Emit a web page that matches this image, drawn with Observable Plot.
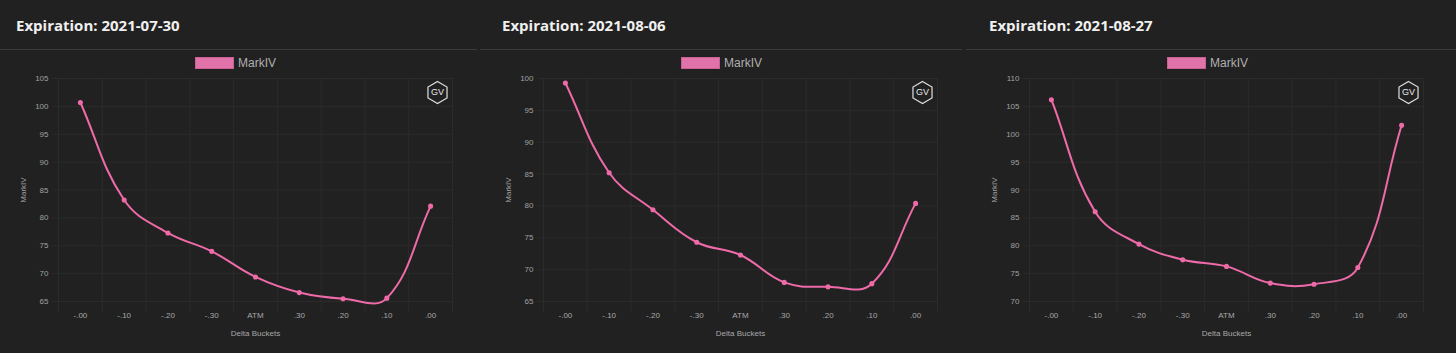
<!DOCTYPE html>
<html>
<head>
<meta charset="utf-8">
<script src="https://cdn.jsdelivr.net/npm/d3@7"></script>
<script src="https://cdn.jsdelivr.net/npm/@observablehq/plot@0.6"></script>
<style>
  html, body { margin: 0; padding: 0; background: #212121; overflow: hidden; }
  #root { position: relative; width: 1456px; height: 353px; background: #212121; }
  .title { position: absolute; top: 15px; font: 700 15px "Open Sans", sans-serif; color: #f0f0f0; line-height: 20px; white-space: nowrap; }
  .sep { position: absolute; top: 49px; height: 1px; background: #3b3b3b; }
  .legbox { position: absolute; top: 57px; width: 37px; height: 10px; background: #e173ab; border: 1px solid #c95f93; }
  .legtxt { position: absolute; top: 55px; font: 12px "Liberation Sans", Arial, sans-serif; color: #b0b0b0; line-height: 16px; }
  .chart { position: absolute; top: 70px; }
</style>
</head>
<body>
<div id="root"></div>
<script>
// ---- data ----
const categories = ["-.00", "-.10", "-.20", "-.30", "ATM", ".30", ".20", ".10", ".00"];
const expirations = ["2021-07-30", "2021-08-06", "2021-08-27"];
const markIV_0730 = [100.7, 83.2, 77.3, 74.0, 69.4, 66.6, 65.5, 65.6, 82.1];
const markIV_0806 = [99.3, 85.2, 79.4, 74.3, 72.3, 68.0, 67.3, 67.8, 80.4];
const markIV_0827 = [106.2, 86.1, 80.3, 77.5, 76.3, 73.3, 73.1, 76.1, 101.6];
const yDomains = [[65, 105], [65, 100], [70, 110]];
const seriesName = "MarkIV";
const xLabel = "Delta Buckets";
const logoText = "GV";

const seriesList = [markIV_0730, markIV_0806, markIV_0827];

// Chart.js-like spline curve (tension 0.4)
function ChartSpline(context) { this._context = context; }
ChartSpline.prototype = {
  areaStart() { this._line = 0; },
  areaEnd() { this._line = NaN; },
  lineStart() { this._pts = []; },
  point(x, y) { this._pts.push([+x, +y]); },
  lineEnd() {
    const p = this._pts, n = p.length, t = 0.4, ctx = this._context;
    if (!n) return;
    const cps = p.map((cur, i) => {
      const prev = p[i - 1] || cur, next = p[i + 1] || cur;
      const d01 = Math.hypot(cur[0] - prev[0], cur[1] - prev[1]);
      const d12 = Math.hypot(next[0] - cur[0], next[1] - cur[1]);
      let s01 = d01 / (d01 + d12), s12 = d12 / (d01 + d12);
      s01 = isNaN(s01) ? 0 : s01; s12 = isNaN(s12) ? 0 : s12;
      const fa = t * s01, fb = t * s12;
      return {
        prev: [cur[0] - fa * (next[0] - prev[0]), cur[1] - fa * (next[1] - prev[1])],
        next: [cur[0] + fb * (next[0] - prev[0]), cur[1] + fb * (next[1] - prev[1])]
      };
    });
    ctx.moveTo(p[0][0], p[0][1]);
    for (let i = 1; i < n; i++) {
      ctx.bezierCurveTo(cps[i - 1].next[0], cps[i - 1].next[1], cps[i].prev[0], cps[i].prev[1], p[i][0], p[i][1]);
    }
  }
};
const chartCurve = (context) => new ChartSpline(context);

const hexSymbol = {
  draw(context, size) {
    const r = Math.sqrt(size / Math.PI);
    for (let k = 0; k < 6; k++) {
      const a = -Math.PI / 2 + k * Math.PI / 3;
      const x = r * Math.cos(a), y = r * Math.sin(a);
      if (k === 0) context.moveTo(x, y); else context.lineTo(x, y);
    }
    context.closePath();
  }
};

const root = document.getElementById("root");
const W = 1456;
const lineColor = "#ee6aa8";
const gridColor = "#2b2b2b";

expirations.forEach((exp, i) => {
  const left = Math.round(i * W / 3);

  const title = document.createElement("div");
  title.className = "title";
  title.style.left = (left + 16 + i) + "px";
  title.textContent = "Expiration: " + exp;
  root.appendChild(title);

  const sep = document.createElement("div");
  sep.className = "sep";
  const sl = Math.max(0, left - 5), sr = Math.min(W, left + 477);
  sep.style.left = sl + "px";
  sep.style.width = (i === 2 ? W - sl : sr - sl) + "px";
  root.appendChild(sep);

  const lb = document.createElement("div");
  lb.className = "legbox";
  lb.style.left = (left + 195 + (i ? 1 : 0)) + "px";
  root.appendChild(lb);
  const lt = document.createElement("div");
  lt.className = "legtxt";
  lt.style.left = (left + 238 + (i ? 1 : 0)) + "px";
  lt.textContent = seriesName;
  root.appendChild(lt);

  const values = seriesList[i];
  const data = categories.map((c, j) => ({ idx: j, cat: c, iv: values[j] }));
  const [y0, y1] = yDomains[i];
  const yTicks = d3.range(y0, y1 + 0.001, 5);
  const boundaries = d3.range(categories.length + 1).map(j => j - 0.5);

  const chart = Plot.plot({
    width: 484,
    height: 275,
    marginTop: 8,
    marginBottom: 44,
    marginLeft: 58,
    marginRight: 32,
    style: { background: "transparent", color: "#9a9a9a", fontFamily: "'Liberation Sans', Arial, sans-serif", fontSize: "8px" },
    x: { domain: [-0.5, categories.length - 0.5], label: null },
    y: { domain: [y0, y1], label: null },
    marks: [
      Plot.ruleY(yTicks, { stroke: gridColor, strokeWidth: 1, insetLeft: -6 }),
      Plot.ruleX(boundaries, { stroke: gridColor, strokeWidth: 1, insetBottom: -11 }),
      Plot.axisX({ ticks: d3.range(categories.length), tickFormat: j => categories[j], tickSize: 0, tickPadding: 11, label: xLabel, labelAnchor: "center", labelArrow: "none", labelOffset: 34, fill: "#a8a8a8" }),
      Plot.axisY({ ticks: yTicks, tickSize: 0, tickPadding: 10, label: seriesName, labelAnchor: "center", labelArrow: "none", labelOffset: 38, fill: "#a0a0a0" }),
      Plot.line(data, { x: "idx", y: "iv", stroke: lineColor, strokeWidth: 2, curve: chartCurve }),
      Plot.dot(data, { x: "idx", y: "iv", r: 1.8, fill: lineColor, stroke: lineColor }),
      Plot.dot([logoText], { frameAnchor: "top-right", dx: -15, dy: 14, symbol: hexSymbol, r: 11, stroke: "#e0e0e0", strokeWidth: 1.2, fill: "none" }),
      Plot.text([logoText], { frameAnchor: "top-right", dx: -15, dy: 14, text: d => d, textAnchor: "middle", lineAnchor: "middle", fill: "#e8e8e8", fontSize: 9, fontWeight: "normal" })
    ]
  });
  chart.classList.add("chart");
  chart.style.left = left + "px";
  chart.style.position = "absolute";
  chart.style.top = "70px";
  root.appendChild(chart);
});
</script>
</body>
</html>
